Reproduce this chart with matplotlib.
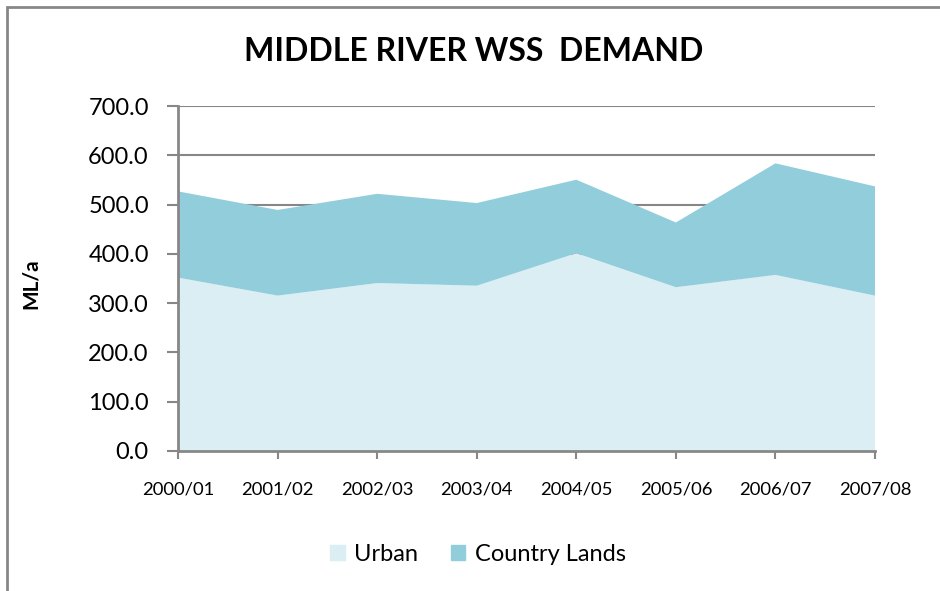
import matplotlib.pyplot as plt
import matplotlib.patches as mpatches
import numpy as np

# Data (ML/a)
years = ['2000/01', '2001/02', '2002/03', '2003/04', '2004/05', '2005/06', '2006/07', '2007/08']
urban = [351.8, 315.3, 340.8, 335.4, 401.4, 332.3, 357.3, 315.2]
country_lands = [175.0, 173.8, 181.1, 167.7, 149.1, 131.4, 226.4, 221.7]

urban_col = '#DAEEF3'
country_col = '#92CDDC'
axis_col = '#878787'

plt.rcParams['font.family'] = ['Lato', 'DejaVu Sans']

fig = plt.figure(figsize=(9.4, 5.91), dpi=100)
ax = fig.add_axes([0.1894, 0.2369, 0.7415, 0.5837])

x = np.arange(len(years))
ax.stackplot(x, urban, country_lands, colors=[urban_col, country_col],
             labels=['Urban', 'Country Lands'], zorder=2)

ax.set_xlim(0, len(years) - 1)
ax.set_ylim(0, 700)
ax.set_yticks(np.arange(0, 701, 100))
ax.set_yticklabels([f'{v:.1f}' for v in np.arange(0, 701, 100)], fontsize=17)
ax.set_xticks(x)
ax.set_xticklabels(years, fontsize=13.3)
ax.yaxis.grid(True, color=axis_col, linewidth=1.5, zorder=0)
ax.set_axisbelow(True)

for s in ['top', 'right']:
    ax.spines[s].set_visible(False)
for s in ['left', 'bottom']:
    ax.spines[s].set_color(axis_col)
    ax.spines[s].set_linewidth(2)
    ax.spines[s].set_zorder(3)
ax.tick_params(axis='y', length=8, width=1.5, color=axis_col, pad=13)
ax.tick_params(axis='x', length=6, width=1.5, color=axis_col, pad=16)

fig.text(31 / 940, 0.52, 'ML/a', rotation=90, ha='center', va='center',
         fontsize=15, fontweight='bold')

fig.text(0.504, 0.913, 'MIDDLE RIVER WSS  DEMAND', ha='center', va='center',
         fontsize=23, fontweight='bold')

handles = [mpatches.Patch(color=urban_col, label='Urban'),
           mpatches.Patch(color=country_col, label='Country Lands')]
fig.legend(handles=handles, loc='center', bbox_to_anchor=(0.5085, 0.062), ncol=2,
           frameon=False, fontsize=17, handlelength=0.6, handleheight=0.6,
           handletextpad=0.4, columnspacing=1.4)

# outer chart frame (only left and top edges are in view)
frame = mpatches.Rectangle((7 / 940, -0.1), 1.2, 1 - 7 / 591 + 0.1,
                           transform=fig.transFigure, fill=False,
                           edgecolor=axis_col, linewidth=2)
fig.patches.append(frame)

fig.savefig('out.png', dpi=100)
